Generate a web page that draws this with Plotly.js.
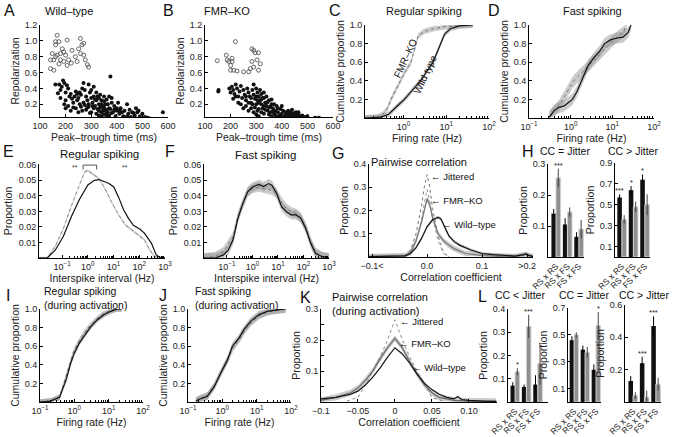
<!DOCTYPE html>
<html>
<head>
<meta charset="utf-8">
<script src="https://cdn.plot.ly/plotly-3.0.1.min.js"></script>
<style>
  html, body { margin: 0; padding: 0; background: #fff; }
  #chart { width: 675px; height: 437px; }
</style>
</head>
<body>
<div id="chart"></div>
<script>
// ---- data ----
// A / B : spike waveform scatter (open = fast spiking, filled = regular spiking)
const aOpenX = [141,154,141,154,161,167,161,174,180,187,193,206,200,174,180,193,212,206,225,238,251,258,264,271,277,290,258,245,271,167,161,148,222,285];
const aOpenY = [0.76,0.76,0.65,0.63,0.95,1.07,0.99,0.99,0.84,0.9,0.86,1.01,0.82,0.71,0.76,0.74,0.76,0.69,0.88,0.8,0.9,1.03,0.95,0.82,0.76,0.67,0.84,0.74,0.97,0.82,0.8,0.84,0.72,0.7];
const aFillX = [175,180,185,190,195,200,205,210,215,200,195,180,220,225,230,235,240,245,250,255,260,265,270,275,280,285,290,295,300,305,310,315,320,325,330,335,340,345,350,355,360,365,370,375,380,385,390,395,400,405,410,415,420,425,430,440,445,450,460,470,480,490,500,510,520,530,580,200,210,220,240,250,260,270,280,290,300,310,320,330,340,350,360,300,310,320,330,340,350,360,370,380,390,400,410,330,340,350,360,370,380,290,305,315,325,335,345,355,365,375,265,275,285,295,255,245,230,440,455,465,475,485,160,170];
const aFillY = [0.45,0.38,0.42,0.5,0.47,0.35,0.44,0.4,0.3,0.25,0.2,0.28,0.33,0.27,0.22,0.3,0.36,0.25,0.28,0.2,0.32,0.4,0.47,0.38,0.3,0.25,0.45,0.35,0.28,0.22,0.3,0.18,0.25,0.14,0.2,0.32,0.1,0.17,0.24,0.12,0.08,0.2,0.15,0.55,0.28,0.1,0.18,0.05,0.12,0.22,0.08,0.15,0.1,0.05,0.12,0.2,0.08,0.13,0.1,0.06,0.1,0.05,0.08,0.04,0.03,0.02,0.1,0.15,0.18,0.12,0.15,0.1,0.17,0.22,0.13,0.17,0.1,0.15,0.08,0.12,0.2,0.16,0.13,0.38,0.42,0.35,0.28,0.25,0.3,0.26,0.3,0.22,0.13,0.15,0.12,0.06,0.05,0.07,0.04,0.06,0.09,0.2,0.18,0.26,0.3,0.16,0.12,0.2,0.1,0.14,0.12,0.19,0.16,0.09,0.35,0.33,0.16,0.05,0.04,0.09,0.15,0.12,0.45,0.34];
const bOpenX = [148,183,187,193,200,206,206,200,212,225,219,251,271,283,290,296,309,303,283,316,290,309,277];
const bOpenY = [0.75,0.82,0.76,0.74,0.69,0.74,0.78,0.63,0.63,0.62,0.99,0.61,0.61,0.9,0.88,0.85,0.85,0.76,0.74,0.71,0.67,0.63,0.65];
const bFillX = [152,153,195,200,205,210,215,220,225,230,235,240,245,250,255,260,265,270,275,280,285,290,295,300,305,310,315,320,325,330,335,340,345,350,355,360,365,370,375,380,385,390,395,400,405,410,415,420,425,430,435,440,445,450,455,460,465,470,480,490,500,530,545,240,250,260,270,280,290,300,310,320,330,340,350,290,300,305,310,315,320,325,330,335,345,355,365,375,385,395,405,415,425,435,445,455,465,475,300,310,320,330,340,350,360,370,280,285,295,305,270,260,230,220,210,400,380,390,360,430,440,450];
const bFillY = [0.36,0.38,0.4,0.35,0.42,0.38,0.33,0.45,0.4,0.3,0.36,0.43,0.28,0.38,0.32,0.25,0.4,0.35,0.3,0.22,0.38,0.32,0.27,0.4,0.35,0.3,0.25,0.2,0.15,0.28,0.22,0.18,0.12,0.25,0.1,0.2,0.15,0.08,0.12,0.18,0.1,0.06,0.14,0.08,0.12,0.05,0.1,0.07,0.04,0.09,0.06,0.03,0.08,0.05,0.1,0.04,0.07,0.03,0.06,0.04,0.05,0.03,0.03,0.2,0.15,0.18,0.12,0.15,0.1,0.2,0.14,0.1,0.08,0.3,0.07,0.45,0.3,0.25,0.22,0.38,0.33,0.28,0.18,0.13,0.23,0.17,0.11,0.06,0.15,0.04,0.03,0.06,0.12,0.1,0.04,0.07,0.1,0.05,0.07,0.05,0.26,0.35,0.22,0.16,0.26,0.2,0.28,0.2,0.16,0.12,0.22,0.3,0.22,0.3,0.27,0.18,0.03,0.02,0.05,0.02,0.13,0.09];

// C / D : cumulative firing rate
const cKoRate = [0.126,0.25,0.33,0.42,0.51,0.65,0.85,1.1,1.5,1.85,2.2,3.0,5.0,10,20,42];
const cKoCum  = [0,0.01,0.04,0.1,0.2,0.3,0.4,0.5,0.6,0.75,0.88,0.93,0.96,0.985,0.995,1.0];
const cWtRate = [0.126,0.3,0.45,0.6,0.8,1.05,1.6,2.5,3.5,4.9,6.3,8.0,9.1,12.5,20,42];
const cWtCum  = [0,0.01,0.04,0.1,0.15,0.2,0.3,0.4,0.5,0.6,0.72,0.84,0.9,0.96,0.99,1.0];
const dWtRate = [0.31,0.4,0.5,0.7,0.9,1.1,1.4,1.9,2.6,3.5,5.0,6.5,9.0,13,18,24,28];
const dWtCum  = [0.01,0.08,0.11,0.13,0.17,0.2,0.28,0.42,0.56,0.64,0.72,0.8,0.84,0.86,0.87,0.92,1.0];
const dKoRate = [0.31,0.5,0.8,1.1,1.5,2.2,3.2,5,8,12,18,22];
const dKoCum  = [0.02,0.12,0.27,0.38,0.45,0.52,0.6,0.68,0.78,0.86,0.92,1.0];

// E / F : interspike interval distributions
const eWtIsi  = [0.0126,0.0263,0.0537,0.112,0.234,0.479,1,1.78,2.75,4.27,6.61,10.2,15.8,24.5,38.0,58.9,107,158,295,457,708,1000];
const eWtProp = [0,0,0.005,0.014,0.027,0.038,0.047,0.050,0.0505,0.049,0.048,0.0457,0.039,0.031,0.0255,0.021,0.0185,0.016,0.0096,0.002,0,0];
const eKoIsi  = [0.0126,0.0263,0.0537,0.112,0.234,0.479,0.741,1,1.55,2.75,5.01,8.91,15.8,28.8,51.3,91.2,158,251,398,631,1000];
const eKoProp = [0,0,0.0075,0.019,0.034,0.048,0.0553,0.0564,0.054,0.051,0.0436,0.035,0.0277,0.0213,0.018,0.0149,0.0117,0.0053,0.001,0,0];
const fWtIsi  = [0.0126,0.0347,0.0724,0.112,0.174,0.269,0.417,0.646,1,1.78,2.75,4.27,5.75,8.91,13.8,21.4,33.1,51.3,79.4,123,191,295,525,813,1000];
const fWtProp = [0,0,0.002,0.005,0.0117,0.0255,0.035,0.0426,0.0457,0.0474,0.046,0.0479,0.0468,0.0415,0.033,0.0298,0.0277,0.0277,0.0255,0.019,0.0096,0.003,0.001,0,0];
const fKoIsi  = [0.0126,0.0347,0.0724,0.174,0.269,0.646,1,1.78,2.75,5.75,8.91,13.8,21.4,33.1,51.3,79.4,123,191,295,525,1000];
const fKoProp = [0,0.001,0.004,0.0138,0.027,0.0426,0.0447,0.0457,0.0447,0.0436,0.0415,0.036,0.032,0.0298,0.0287,0.026,0.0198,0.0106,0.0036,0.001,0];

// G / K : pairwise correlation histograms
const gJitCc  = [-0.04,-0.03,-0.02,-0.01,-0.005,0,0.005,0.01,0.02,0.03,0.04];
const gJit1   = [0,0.03,0.1,0.22,0.3,0.355,0.3,0.21,0.09,0.02,0];
const gJit2   = [0,0.02,0.07,0.16,0.23,0.29,0.24,0.17,0.07,0.015,0];
const gKoCc   = [-0.105,-0.06,-0.04,-0.03,-0.02,-0.01,0,0.005,0.01,0.02,0.03,0.04,0.05,0.07,0.1,0.13,0.16,0.175,0.18,0.185,0.193];
const gKoProp = [0.002,0.002,0.005,0.02,0.07,0.15,0.25,0.225,0.17,0.1,0.07,0.05,0.035,0.015,0.006,0.003,0.002,0.008,0.012,0.006,0.002];
const gWtCc   = [-0.105,-0.06,-0.04,-0.03,-0.02,-0.01,0,0.01,0.02,0.025,0.03,0.04,0.05,0.06,0.08,0.1,0.12,0.14,0.16,0.175,0.18,0.185,0.193];
const gWtProp = [0.002,0.002,0.005,0.015,0.04,0.08,0.13,0.16,0.17,0.165,0.14,0.09,0.065,0.05,0.03,0.015,0.01,0.008,0.004,0.01,0.013,0.007,0.002];
const kJitCc  = [-0.065,-0.05,-0.04,-0.03,-0.02,-0.01,0,0.01,0.02,0.03,0.04,0.05,0.065];
const kJit    = [0.003,0.015,0.055,0.1,0.145,0.2,0.265,0.2,0.145,0.1,0.055,0.015,0.003];
const kKoCc   = [-0.1,-0.08,-0.06,-0.05,-0.04,-0.03,-0.02,-0.01,0,0.01,0.02,0.03,0.04,0.05,0.06,0.08,0.1,0.12,0.137];
const kKoProp = [0.005,0.015,0.03,0.045,0.07,0.1,0.14,0.175,0.205,0.175,0.13,0.09,0.055,0.03,0.015,0.005,0.003,0.002,0.002];
const kWtCc   = [-0.1,-0.08,-0.06,-0.05,-0.04,-0.03,-0.02,-0.01,0,0.01,0.02,0.03,0.04,0.05,0.06,0.07,0.08,0.085,0.09,0.1,0.12,0.137];
const kWtProp = [0.01,0.015,0.025,0.035,0.055,0.08,0.11,0.145,0.175,0.155,0.125,0.09,0.06,0.04,0.025,0.015,0.01,0.018,0.008,0.005,0.003,0.002];

// I / J : cumulative firing rate during activation
const iWtRate = [0.1,0.2,0.37,0.58,0.79,1.0,1.38,2.19,3.02,4.68,7.41,11.5,17.8,24];
const iWtCum  = [0,0.01,0.05,0.24,0.42,0.525,0.63,0.74,0.81,0.885,0.94,0.975,1.0,1.0];
const iKoRate = [0.1,0.2,0.37,0.55,0.75,0.95,1.3,2.0,2.9,4.5,7.0,11,16,24];
const iKoCum  = [0,0.01,0.05,0.25,0.43,0.54,0.64,0.75,0.82,0.89,0.945,0.98,1.0,1.0];
const jWtRate = [0.17,0.21,0.36,0.58,0.89,1.41,1.95,3.09,4.27,6.76,11.7,20.4,40,70];
const jWtCum  = [0.01,0.03,0.06,0.165,0.31,0.45,0.6,0.69,0.78,0.87,0.94,0.975,0.99,1.0];
const jKoRate = [0.17,0.22,0.38,0.6,0.95,1.5,2.1,3.2,4.5,7.0,12,21,40,70];
const jKoCum  = [0.01,0.03,0.07,0.18,0.33,0.47,0.59,0.68,0.77,0.86,0.93,0.97,0.99,1.0];

// H / L : fraction of pairs, wild-type (black) vs FMR-KO (grey)
const pairCats = ['RS x RS', 'RS x FS', 'FS x FS'];
const hEqWt = [0.14, 0.105, 0.065], hEqWtErr = [0.015, 0.02, 0.015];
const hEqKo = [0.255, 0.145, 0.09], hEqKoErr = [0.03, 0.015, 0.03];
const hEqStars = ['***', '', ''];
const hGtWt = [0.57, 0.64, 0.74], hGtWtErr = [0.03, 0.04, 0.05];
const hGtKo = [0.36, 0.48, 0.50], hGtKoErr = [0.04, 0.05, 0.10];
const hGtStars = ['***', '*', '*'];
const lLtWt = [0.07, 0.065, 0.075], lLtWtErr = [0.015, 0.01, 0.04];
const lLtKo = [0.13, 0.325, 0.165], lLtKoErr = [0.015, 0.05, 0.09];
const lLtStars = ['*', '***', ''];
const lEqWt = [0.46, 0.39, 0.24], lEqWtErr = [0.03, 0.03, 0.04];
const lEqKo = [0.50, 0.37, 0.57], lEqKoErr = [0.02, 0.04, 0.1];
const lEqStars = ['', '', '*'];
const lGtWt = [0.13, 0.24, 0.47], lGtWtErr = [0.03, 0.04, 0.06];
const lGtKo = [0.04, 0.03, 0.11], lGtKoErr = [0.02, 0.04, 0.04];
const lGtStars = ['', '***', '***'];

// ---- page geometry (px of the 675x437 figure) ----
const W = 675, H = 437;
const FONT = '"Liberation Sans", Arial, sans-serif';
const BAND = 'rgba(140,140,140,0.45)';

const traces = [];
const annotations = [];
const shapes = [];

const sfx = n => (n === 1 ? '' : String(n));
const on = n => ({ xaxis: 'x' + sfx(n), yaxis: 'y' + sfx(n) });

const layout = {
  width: W, height: H,
  margin: { l: 0, r: 0, t: 0, b: 0 },
  paper_bgcolor: '#fff',
  plot_bgcolor: 'rgba(0,0,0,0)',
  showlegend: false,
  font: { family: FONT, size: 9, color: '#222' },
  barmode: 'group',
  bargap: 0.2,
  bargroupgap: 0,
  annotations: annotations,
  shapes: shapes
};

const axBase = {
  showline: true, linecolor: '#000', linewidth: 1,
  ticks: 'inside', ticklen: 3, tickcolor: '#000',
  showgrid: false, zeroline: false, mirror: false,
  tickfont: { size: 9, color: '#222' }
};

function axes(n, xpx, ypx, xo, yo) {
  layout['xaxis' + sfx(n)] = Object.assign({}, axBase,
    { domain: [xpx[0] / W, xpx[1] / W], anchor: 'y' + sfx(n) }, xo);
  layout['yaxis' + sfx(n)] = Object.assign({}, axBase,
    { domain: [1 - ypx[1] / H, 1 - ypx[0] / H], anchor: 'x' + sfx(n) }, yo);
}

const ttl = (text, size) => ({ text: text, font: { size: size || 10.5, color: '#222' }, standoff: 3 });

function logAxis(lo, hi, rng, title) {
  const vals = [], text = [], minor = [];
  for (let k = lo; k <= hi; k++) {
    vals.push(Math.pow(10, k));
    text.push('10<sup>' + (k < 0 ? '−' : '') + Math.abs(k) + '</sup>');
    if (k < hi) for (let m = 2; m <= 9; m++) minor.push(m * Math.pow(10, k));
  }
  return {
    type: 'log', range: rng, tickmode: 'array', tickvals: vals, ticktext: text,
    minor: { tickmode: 'array', tickvals: minor, ticks: 'inside', ticklen: 2, tickcolor: '#000' },
    title: ttl(title)
  };
}

function line(n, xs, ys, color, width, dash) {
  traces.push(Object.assign({
    type: 'scatter', mode: 'lines', x: xs, y: ys, hoverinfo: 'skip',
    line: { color: color, width: width, dash: dash || 'solid' }
  }, on(n)));
}

function band(n, xs, ys, sem, cap) {
  const hi = ys.map(v => Math.min(cap, v + sem));
  const lo = ys.map(v => Math.max(0, v - sem));
  traces.push(Object.assign({
    type: 'scatter', mode: 'lines', hoverinfo: 'skip',
    x: xs.concat(xs.slice().reverse()), y: hi.concat(lo.slice().reverse()),
    fill: 'toself', fillcolor: BAND, line: { width: 0 }
  }, on(n)));
}

function dots(n, xs, ys, open) {
  traces.push(Object.assign({
    type: 'scatter', mode: 'markers', x: xs, y: ys, hoverinfo: 'skip',
    marker: open
      ? { symbol: 'circle-open', size: 4, color: '#444', line: { width: 0.8 } }
      : { symbol: 'circle', size: 4, color: '#111' }
  }, on(n)));
}

function bars(n, wt, wtErr, ko, koErr, stars) {
  traces.push(Object.assign({
    type: 'bar', x: pairCats, y: wt, hoverinfo: 'skip',
    marker: { color: '#111', line: { width: 0 } },
    error_y: { type: 'data', array: wtErr, color: '#000', thickness: 1, width: 0 }
  }, on(n)));
  traces.push(Object.assign({
    type: 'bar', x: pairCats, y: ko, hoverinfo: 'skip',
    marker: { color: '#8f8f8f', line: { color: '#d2d2d2', width: 1 } },
    error_y: { type: 'data', array: koErr, color: '#444', thickness: 1, width: 0 }
  }, on(n)));
  stars.forEach((s, i) => {
    if (!s) return;
    const wTop = wt[i] + wtErr[i], kTop = ko[i] + koErr[i];
    annotations.push({
      text: s, showarrow: false, xref: 'x' + sfx(n), yref: 'y' + sfx(n),
      x: wTop >= kTop ? i - 0.2 : i + 0.2, y: Math.max(wTop, kTop),
      yanchor: 'bottom', yshift: -3, font: { size: 7.5, color: '#222' }
    });
  });
}

function label(text, x, y, size, anchor, extra) {
  annotations.push(Object.assign({
    text: text, showarrow: false, xref: 'paper', yref: 'paper',
    x: x / W, y: 1 - y / H, xanchor: anchor || 'center', yanchor: 'middle',
    font: { size: size, color: '#111', family: FONT }
  }, extra || {}));
}

// ---- A, B ----
const scatX = t => ({ range: [100, 600], tickvals: [100,200,300,400,500,600], title: ttl(t) });
const scatY = { range: [0.04, 1.2], tickvals: [0.2,0.4,0.6,0.8,1.0,1.2], tickformat: '.1f', title: ttl('Repolarization') };
axes(1, [40, 168], [25, 117], scatX('Peak–trough time (ms)'), scatY);
axes(2, [205, 333], [25, 117], scatX('Peak–trough time (ms)'), scatY);
dots(1, aFillX, aFillY, false); dots(1, aOpenX, aOpenY, true);
dots(2, bFillX, bFillY, false); dots(2, bOpenX, bOpenY, true);

// ---- C, D ----
const cumY = { range: [0, 1], tickvals: [0.2,0.4,0.6,0.8,1.0], tickformat: '.1f', title: ttl('Cumulative proportion') };
axes(3, [365, 489], [25, 118], logAxis(-1, 2, [-0.9, 2], 'Firing rate (Hz)'), cumY);
axes(4, [529, 654], [25, 118], logAxis(-1, 2, [-1, 2], 'Firing rate (Hz)'), cumY);
band(3, cKoRate, cKoCum, 0.03, 1); band(3, cWtRate, cWtCum, 0.03, 1);
line(3, cKoRate, cKoCum, '#777', 1, 'dot'); line(3, cWtRate, cWtCum, '#111', 1.2);
band(4, dWtRate, dWtCum, 0.06, 1); band(4, dKoRate, dKoCum, 0.06, 1);
line(4, dKoRate, dKoCum, '#777', 1, 'dot'); line(4, dWtRate, dWtCum, '#111', 1.2);
label('FMR–KO', 405, 58, 10, 'center', { textangle: -65 });
label('Wild type', 425, 74, 10, 'center', { textangle: -65 });

// ---- E, F ----
const isiY = { range: [0, 0.0605], tickvals: [0.01,0.02,0.03,0.04,0.05,0.06], tickformat: '.2f', title: ttl('Proportion') };
axes(5, [39, 165], [164, 258], logAxis(-1, 3, [-1.9, 3], 'Interspike interval (Hz)'), isiY);
axes(6, [204, 329], [164, 258], logAxis(-1, 3, [-1.9, 3], 'Interspike interval (Hz)'), isiY);
band(5, eKoIsi, eKoProp, 0.0008, 1); line(5, eKoIsi, eKoProp, '#888', 1, 'dot'); line(5, eWtIsi, eWtProp, '#111', 1.2);
band(6, fWtIsi, fWtProp, 0.003, 1); band(6, fKoIsi, fKoProp, 0.003, 1);
line(6, fKoIsi, fKoProp, '#777', 1, 'dot'); line(6, fWtIsi, fWtProp, '#111', 1.2);
// significance brackets in E (log10 x positions)
[[-1.0, 0.0], [0.65, 2.2]].forEach(b => {
  shapes.push({ type: 'path', xref: 'x5', yref: 'y5', line: { color: '#555', width: 1 },
    path: `M ${b[0]} 0.057 L ${b[0]} 0.0598 L ${b[1]} 0.0598 L ${b[1]} 0.057` });
  annotations.push({ text: '**', showarrow: false, xref: 'x5', yref: 'y5',
    x: (b[0] + b[1]) / 2, y: 0.0585, font: { size: 7, color: '#333' } });
});

// ---- G ----
axes(7, [369, 533], [164, 257],
  { range: [-0.1055, 0.1927], tickvals: [-0.1, 0, 0.1, 0.182], ticktext: ['−0.1<', '0.0', '0.1', '>0.2'], title: ttl('Correlation coefficient') },
  { range: [0, 0.4], tickvals: [0.1,0.2,0.3,0.4], tickformat: '.1f', title: ttl('Proportion') });
band(7, gKoCc, gKoProp, 0.012, 1); band(7, gWtCc, gWtProp, 0.007, 1);
line(7, gJitCc, gJit1, '#777', 1, 'dot'); line(7, gJitCc, gJit2, '#999', 1, 'dot');
line(7, gKoCc, gKoProp, '#777', 1.2); line(7, gWtCc, gWtProp, '#111', 1.2);
label('← Jittered', 429, 176, 9.5, 'left');
label('← FMR–KO', 429, 201, 9.5, 'left');
label('← Wild–type', 440, 224, 9.5, 'left');

// ---- H ----
const barX = r => ({ type: 'category', range: r, tickangle: -45, ticks: '', tickfont: { size: 8.5, color: '#222' } });
axes(8, [548, 584], [164, 257], barX([-0.7, 2.45]), { range: [0, 0.3], tickvals: [0.1,0.2,0.3], tickformat: '.1f', title: ttl('Proportion') });
axes(9, [615, 650], [163, 257], barX([-0.6, 2.45]), { range: [0, 0.9], tickvals: [0.1,0.3,0.5,0.7,0.9], tickformat: '.1f', title: ttl('Proportion') });
bars(8, hEqWt, hEqWtErr, hEqKo, hEqKoErr, hEqStars);
bars(9, hGtWt, hGtWtErr, hGtKo, hGtKoErr, hGtStars);

// ---- I, J ----
axes(10, [40, 143], [309, 402], logAxis(-1, 2, [-1, 2], 'Firing rate (Hz)'), cumY);
axes(11, [188, 291], [309, 402], logAxis(-1, 2, [-1, 2], 'Firing rate (Hz)'), cumY);
band(10, iWtRate, iWtCum, 0.03, 1); band(10, iKoRate, iKoCum, 0.03, 1);
line(10, iKoRate, iKoCum, '#666', 1, 'dot'); line(10, iWtRate, iWtCum, '#111', 1.2);
band(11, jWtRate, jWtCum, 0.04, 1); band(11, jKoRate, jKoCum, 0.04, 1);
line(11, jKoRate, jKoCum, '#666', 1, 'dot'); line(11, jWtRate, jWtCum, '#111', 1.2);

// ---- K ----
axes(12, [321, 497], [309, 402],
  { range: [-0.1, 0.138], tickvals: [-0.1, -0.05, 0, 0.05, 0.1], ticktext: ['−0.1', '−0.05', '0', '0.05', '0.10'], title: ttl('Correlation coefficient') },
  { range: [0, 0.3], tickvals: [0.1, 0.2, 0.3], tickformat: '.1f', title: ttl('Proportion'),
    minor: { dtick: 0.05, ticks: 'inside', ticklen: 3, tickcolor: '#000' } });
band(12, kKoCc, kKoProp, 0.01, 1);
line(12, kJitCc, kJit, '#888', 1, 'dot');
line(12, kKoCc, kKoProp, '#666', 1.2); line(12, kWtCc, kWtProp, '#111', 1.2);
label('← Jittered', 398, 321, 9.5, 'left');
label('← FMR–KO', 397, 343, 9.5, 'left');
label('← Wild–type', 410, 367, 9.5, 'left');

// ---- L ----
axes(13, [508, 548], [309, 402], barX([-0.62, 2.9]), { range: [0, 0.4], tickvals: [0.1,0.2,0.3,0.4], tickformat: '.1f', title: ttl('Proportion') });
axes(14, [568, 601], [308, 402], barX([-0.55, 2.45]), { range: [0, 0.7], tickvals: [0.1,0.3,0.5,0.7], tickformat: '.1f', title: ttl('Proportion') });
axes(15, [625, 661], [305, 402], barX([-0.7, 2.45]), { range: [0, 0.6], tickvals: [0.2,0.4,0.6], tickformat: '.1f', title: ttl('Proportion') });
bars(13, lLtWt, lLtWtErr, lLtKo, lLtKoErr, lLtStars);
bars(14, lEqWt, lEqWtErr, lEqKo, lEqKoErr, lEqStars);
bars(15, lGtWt, lGtWtErr, lGtKo, lGtKoErr, lGtStars);

// ---- panel letters and titles ----
[['A', 9, 10], ['B', 168, 10], ['C', 335, 10], ['D', 494, 10],
 ['E', 8, 151], ['F', 170, 151], ['G', 338, 153], ['H', 528, 151],
 ['I', 8, 295], ['J', 163, 295], ['K', 305, 297], ['L', 482, 296]]
  .forEach(p => label(p[0], p[1], p[2], 16, 'center'));

label('Wild–type', 43, 11, 11, 'left');
label('FMR–KO', 202, 11, 11, 'left');
label('Regular spiking', 424, 11, 11);
label('Fast spiking', 592, 11, 11);
label('Regular spiking', 99, 154, 11.5);
label('Fast spiking', 265, 155, 11.5);
label('Pairwise correlation', 369, 162, 11, 'left');
label('CC = Jitter', 565, 151, 10.5);
label('CC > Jitter', 633, 151, 10.5);
label('Regular spiking<br>(during activation)', 42, 298, 10.5, 'left', { align: 'left' });
label('Fast spiking<br>(during activation)', 193, 298, 10.5, 'left', { align: 'left' });
label('Pairwise correlation<br>(during activation)', 330, 304, 11, 'left', { align: 'left' });
label('CC < Jitter', 520, 295, 10.5);
label('CC = Jitter', 584, 295, 10.5);
label('CC > Jitter', 644, 295, 10.5);

Plotly.newPlot('chart', traces, layout, { staticPlot: true, displayModeBar: false });
</script>
</body>
</html>
